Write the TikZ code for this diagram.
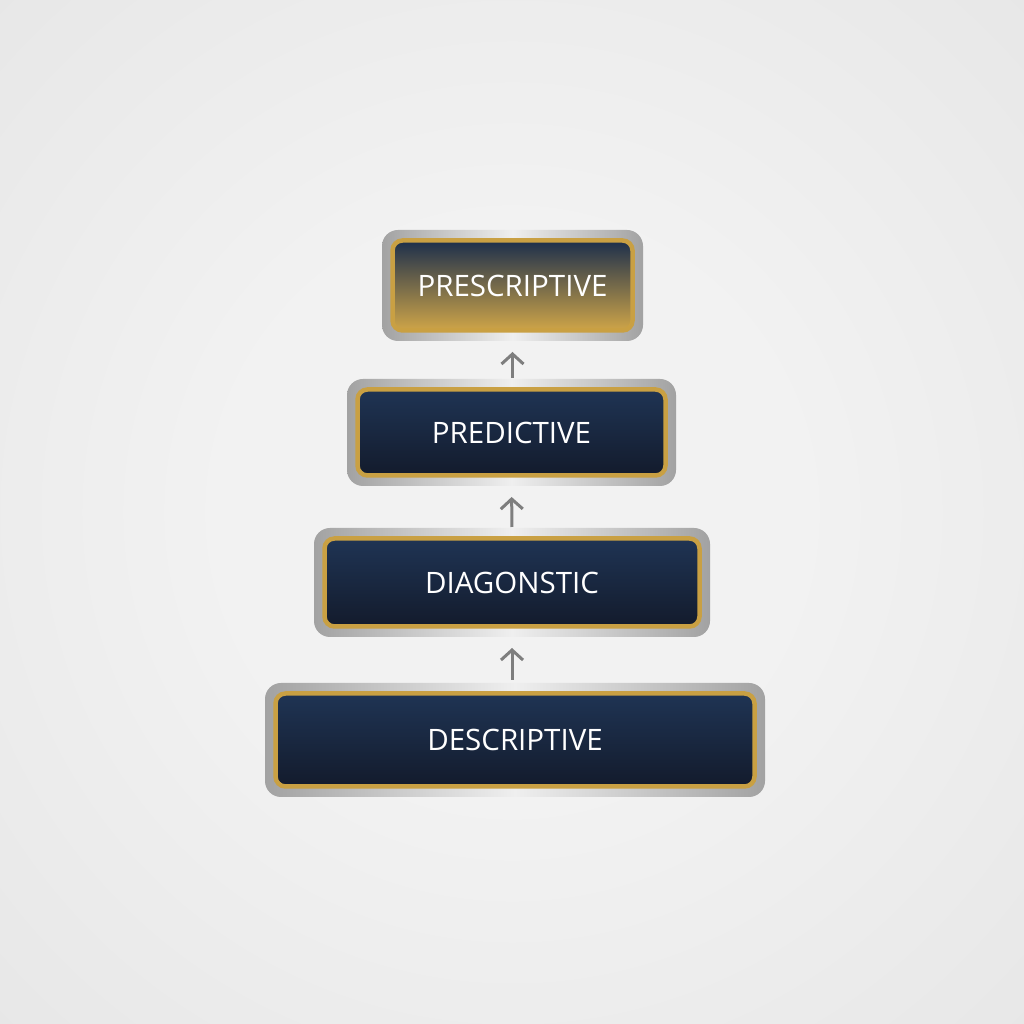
\documentclass[tikz,border=0pt]{standalone}
\usepackage{fontspec}
\setmainfont{Open Sans}
\usetikzlibrary{arrows.meta,backgrounds,fit}

\definecolor{navytop}{HTML}{1F3454}
\definecolor{navybot}{HTML}{131B2C}
\definecolor{goldrim}{HTML}{C9A043}
\definecolor{goldfill}{HTML}{CFA548}
\definecolor{goldmid}{HTML}{7A6538}
\definecolor{silverdark}{HTML}{A2A2A2}
\definecolor{silverlight}{HTML}{EFEFEF}
\definecolor{arrowgray}{HTML}{7E7E7E}
\definecolor{bgin}{HTML}{F2F2F2}
\definecolor{bgmid}{HTML}{E8E8E8}
\definecolor{bgout}{HTML}{D3D3D3}

\pgfdeclareradialshading{bgglow}{\pgfpoint{0bp}{0bp}}{%
  color(0bp)=(bgin); color(14bp)=(bgin); color(34bp)=(bgmid); color(72bp)=(bgout)}

\begin{document}
\begin{tikzpicture}[
  x = 1pt,
  y = 1pt,
  panel/.style = {
    shape = rectangle,
    rounded corners = 10pt,
    draw = goldrim,
    line width = 4.5pt,
    top color = navytop,
    bottom color = navybot,
    text = white,
    font = \fontsize{29.5}{35}\selectfont,
    inner sep = 0pt,
    outer sep = 0pt,
  },
  frame/.style = {
    shape = rectangle,
    rounded corners = 16pt,
    inner sep = 10.5pt,
    outer sep = 0pt,
    left color = silverdark,
    right color = silverdark,
    middle color = silverlight,
  },
  up arrow/.style = {
    draw = arrowgray,
    line width = 3pt,
    -{Straight Barb[length = 10pt, width = 22pt]},
    shorten < = 1pt,
    shorten > = 11pt,
  }
]
  \useasboundingbox (0, 0) rectangle (1024, 1024);
  \begin{scope}[on background layer]
    \fill[shading = bgglow] (0, 0) rectangle (1024, 1024);
  \end{scope}

  \node[panel, minimum width = 240pt, minimum height = 90pt,
        top color = navytop!90!black, middle color = goldmid, bottom color = goldfill]
    (pres) at (512.5, 738.5) {PRESCRIPTIVE};
  \node[panel, minimum width = 308pt, minimum height = 86pt] (pred) at (511.5, 591.5) {PREDICTIVE};
  \node[panel, minimum width = 375pt, minimum height = 88pt] (diag) at (512, 441.5) {DIAGONSTIC};
  \node[panel, minimum width = 479pt, minimum height = 93pt] (desc) at (515, 284) {DESCRIPTIVE};

  \begin{scope}[on background layer]
    \node[frame, fit = (pres)] (pres-frame) {};
    \node[frame, fit = (pred)] (pred-frame) {};
    \node[frame, fit = (diag)] (diag-frame) {};
    \node[frame, fit = (desc)] (desc-frame) {};
  \end{scope}

  \draw[up arrow] (pred-frame.north -| pres-frame) -- (pres-frame.south);
  \draw[up arrow] (diag-frame.north) -- (pred-frame.south);
  \draw[up arrow, shorten < = 3pt] (desc-frame.north -| diag-frame) -- (diag-frame.south);
\end{tikzpicture}
\end{document}
